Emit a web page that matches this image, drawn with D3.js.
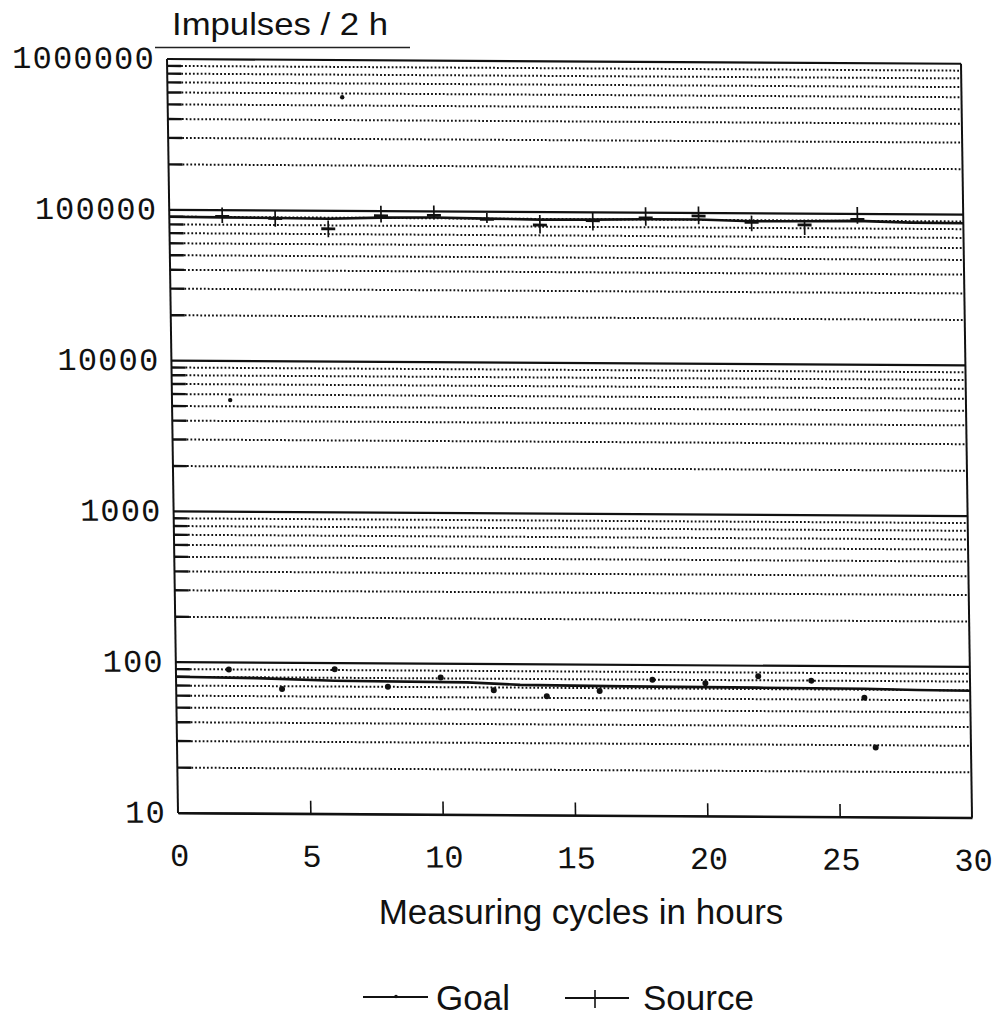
<!DOCTYPE html>
<html>
<head>
<meta charset="utf-8">
<script src="https://cdn.jsdelivr.net/npm/d3@7/dist/d3.min.js"></script>
<style>
  html, body { margin: 0; padding: 0; background: #fff; }
  svg { display: block; }
</style>
</head>
<body>
<svg id="chart" width="997" height="1019"></svg>
<script>
// ---------------- data ----------------
const yTickValues = [10, 100, 1000, 10000, 100000, 1000000];
const yTickLabels = ["10", "100", "1000", "10000", "100000", "1000000"];
const xTickValues = [0, 5, 10, 15, 20, 25, 30];
const xTickLabels = ["0", "5", "10", "15", "20", "25", "30"];

// Goal: measured points near 100 impulses
const goalHours  = [2, 4, 6, 8, 10, 12, 14, 16, 18, 20, 22, 24, 26, 26.4];
const goalValues = [90, 67, 91, 70, 81, 67, 61.5, 67, 80, 76, 85, 80, 62, 29];
// Goal trend line
const goalLineHours  = [0, 3, 6, 11, 13, 17, 22, 26, 28, 30];
const goalLineValues = [80, 79, 76.5, 75.5, 73, 72, 71.5, 71, 70, 69.5];

// Source: measured points with error bars near 100000 impulses
const sourceHours  = [2, 4, 6, 8, 10, 12, 14, 16, 18, 20, 22, 24, 26];
const sourceValues = [90800, 88500, 75900, 93100, 94100, 89000, 82000, 88000, 92200, 95500, 87100, 84100, 92000];
const sourceLow    = [82000, 77900, 66800, 84100, 88500, 84100, 72100, 75900, 82000, 84100, 75900, 72100, 86200];
const sourceHigh   = [104000, 99000, 86200, 108500, 109600, 98000, 95500, 99000, 108500, 110200, 96500, 90800, 111200];
// Source trend line
const sourceLineHours  = [0, 2, 4, 6, 8, 10, 12, 14, 16, 18, 20, 22, 24, 26, 28, 30];
const sourceLineValues = [90000, 89500, 89000, 88500, 90500, 91000, 90000, 89000, 89500, 90500, 90500, 88500, 89000, 90000, 88000, 87500];

// isolated stray readings
const strayHours  = [6.6, 2.2];
const strayValues = [567000, 5500];

const titleText  = "Impulses / 2 h";
const xTitleText = "Measuring cycles in hours";
const legendLabels = ["Goal", "Source"];

// ---------------- layout ----------------
const W = 794, H = 754;
const svg = d3.select("#chart");

// the scanned original is slightly skewed; reproduce with a small shear
const g = svg.append("g").attr("transform", "matrix(1,0.006,0.0146,1,167,59)");

const x = d3.scaleLinear().domain([0, 30]).range([0, W]);
const y = d3.scaleLog().domain([10, 1000000]).range([H, 0]);

// minor gridlines (2..9 within each decade)
const minorVals = [];
for (let d = 10; d < 1000000; d *= 10) {
  for (let k = 2; k <= 9; k++) minorVals.push(d * k);
}
g.selectAll("line.minor").data(minorVals).enter().append("line")
  .attr("class", "minor")
  .attr("x1", 14).attr("x2", W)
  .attr("y1", d => y(d)).attr("y2", d => y(d))
  .attr("stroke", "#111").attr("stroke-width", 2)
  .attr("stroke-dasharray", "1.8,2.1");
// solid stub at the axis for each minor line
g.selectAll("line.stub").data(minorVals).enter().append("line")
  .attr("x1", 0).attr("x2", 14)
  .attr("y1", d => y(d)).attr("y2", d => y(d))
  .attr("stroke", "#111").attr("stroke-width", 2.4);

// major gridlines
g.selectAll("line.major").data(yTickValues).enter().append("line")
  .attr("x1", 0).attr("x2", W)
  .attr("y1", d => y(d)).attr("y2", d => y(d))
  .attr("stroke", "#111").attr("stroke-width", 2.2);

// frame: left, right
g.append("line").attr("x1", 0).attr("x2", 0).attr("y1", 0).attr("y2", H)
  .attr("stroke", "#111").attr("stroke-width", 2);
g.append("line").attr("x1", W).attr("x2", W).attr("y1", 0).attr("y2", H)
  .attr("stroke", "#111").attr("stroke-width", 2);

// x axis with upward ticks
const xAxis = d3.axisBottom(x).tickValues(xTickValues.slice(1, -1)).tickSizeInner(-13).tickSizeOuter(0).tickFormat("");
const xa = g.append("g").attr("transform", `translate(0,${H})`).call(xAxis);
xa.select(".domain").attr("stroke", "#111").attr("stroke-width", 2);
xa.selectAll(".tick line").attr("stroke", "#111").attr("stroke-width", 1.6);

// x tick labels
g.selectAll("text.xl").data(xTickValues).enter().append("text")
  .attr("x", d => x(d) + 1)
  .attr("y", H + 53)
  .attr("text-anchor", "middle")
  .attr("font-family", "Liberation Mono, DejaVu Sans Mono, monospace")
  .attr("font-size", 32)
  .attr("fill", "#111")
  .text((d, i) => xTickLabels[i]);

// y tick labels
g.selectAll("text.yl").data(yTickValues).enter().append("text")
  .attr("x", -12)
  .attr("y", d => y(d) + 10)
  .attr("text-anchor", "end")
  .attr("font-family", "Liberation Mono, DejaVu Sans Mono, monospace")
  .attr("font-size", 32)
  .attr("letter-spacing", 1.2)
  .attr("fill", "#111")
  .text((d, i) => yTickLabels[i]);

// ---------------- data marks ----------------
const line = d3.line().x(d => x(d[0])).y(d => y(d[1])).curve(d3.curveLinear);

// Goal trend line
g.append("path")
  .datum(goalLineHours.map((h, i) => [h, goalLineValues[i]]))
  .attr("d", line).attr("fill", "none").attr("stroke", "#111").attr("stroke-width", 2.6);

// Goal points
g.selectAll("circle.goal").data(goalHours.map((h, i) => [h, goalValues[i]])).enter().append("circle")
  .attr("cx", d => x(d[0])).attr("cy", d => y(d[1])).attr("r", 3).attr("fill", "#111");

// stray readings
g.selectAll("circle.stray").data(strayHours.map((h, i) => [h, strayValues[i]])).enter().append("circle")
  .attr("cx", d => x(d[0])).attr("cy", d => y(d[1])).attr("r", 2.2).attr("fill", "#111");

// Source trend line
g.append("path")
  .datum(sourceLineHours.map((h, i) => [h, sourceLineValues[i]]))
  .attr("d", line).attr("fill", "none").attr("stroke", "#111").attr("stroke-width", 2.6);

// Source error bars
const src = sourceHours.map((h, i) => ({ h, v: sourceValues[i], lo: sourceLow[i], hi: sourceHigh[i] }));
g.selectAll("line.err").data(src).enter().append("line")
  .attr("x1", d => x(d.h)).attr("x2", d => x(d.h))
  .attr("y1", d => y(d.lo)).attr("y2", d => y(d.hi))
  .attr("stroke", "#111").attr("stroke-width", 1.7);
g.selectAll("line.bar").data(src).enter().append("line")
  .attr("x1", d => x(d.h) - 7).attr("x2", d => x(d.h) + 7)
  .attr("y1", d => y(d.v)).attr("y2", d => y(d.v))
  .attr("stroke", "#111").attr("stroke-width", 2.8);

// ---------------- texts outside the skewed plot ----------------
svg.append("text")
  .attr("x", 172).attr("y", 35)
  .attr("font-family", "Liberation Sans, Arial, sans-serif")
  .attr("font-size", 32)
  .attr("textLength", 216).attr("lengthAdjust", "spacingAndGlyphs")
  .attr("fill", "#111")
  .text(titleText);
svg.append("line").attr("x1", 155).attr("x2", 410).attr("y1", 47.5).attr("y2", 47.5)
  .attr("stroke", "#222").attr("stroke-width", 1.5);

svg.append("text")
  .attr("x", 581).attr("y", 924)
  .attr("text-anchor", "middle")
  .attr("font-family", "Liberation Sans, Arial, sans-serif")
  .attr("font-size", 35)
  .attr("fill", "#111")
  .text(xTitleText);

// legend
const lg = svg.append("g");
lg.append("line").attr("x1", 363).attr("x2", 428).attr("y1", 997).attr("y2", 997)
  .attr("stroke", "#111").attr("stroke-width", 2);
lg.append("circle").attr("cx", 396).attr("cy", 996.5).attr("r", 1.8).attr("fill", "#111");
lg.append("text").attr("x", 436).attr("y", 1010)
  .attr("font-family", "Liberation Sans, Arial, sans-serif").attr("font-size", 35).attr("fill", "#111")
  .text(legendLabels[0]);
lg.append("line").attr("x1", 565).attr("x2", 629).attr("y1", 998).attr("y2", 998)
  .attr("stroke", "#111").attr("stroke-width", 2);
lg.append("line").attr("x1", 595).attr("x2", 595).attr("y1", 990).attr("y2", 1008)
  .attr("stroke", "#111").attr("stroke-width", 1.6);
lg.append("text").attr("x", 643).attr("y", 1010)
  .attr("font-family", "Liberation Sans, Arial, sans-serif").attr("font-size", 35).attr("fill", "#111")
  .text(legendLabels[1]);
</script>
</body>
</html>
